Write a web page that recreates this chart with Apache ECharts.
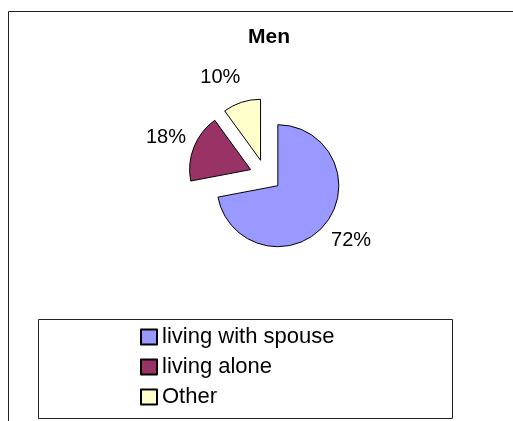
<!DOCTYPE html>
<html>
<head>
<meta charset="utf-8">
<script src="https://cdn.jsdelivr.net/npm/echarts@6/dist/echarts.min.js"></script>
<style>
  html, body { margin: 0; padding: 0; background: #fff; }
  #chart { width: 513px; height: 421px; }
</style>
</head>
<body>
<div id="chart"></div>
<script>
// living arrangements of men, shares in percent
const categories = ['living with spouse', 'living alone', 'Other']
const shares = [72, 18, 10]
const sliceColors = ['#9999ff', '#993366', '#ffffcc']
// per-slice nudge so labels sit where the original put them
const labelNudge = [-13.6, -16, -6.6]

const FONT = '"Liberation Sans", Arial, sans-serif'

const chart = echarts.init(document.getElementById('chart'))

chart.setOption({
  backgroundColor: '#ffffff',
  animation: false,
  title: {
    text: 'Men',
    left: 264,
    textAlign: 'center',
    top: 22,
    textStyle: { fontFamily: FONT, fontSize: 21, fontWeight: 'bold', color: '#000' },
  },
  legend: {
    orient: 'vertical',
    left: 135,
    top: 321,
    itemWidth: 16,
    itemHeight: 15,
    itemGap: 8,
    icon: 'rect',
    selectedMode: false,
    data: categories,
    textStyle: { fontFamily: FONT, fontSize: 22, lineHeight: 22, color: '#000' },
  },
  graphic: [
    {
      type: 'rect',
      shape: { x: 8.5, y: 11.5, width: 600, height: 600 },
      style: { fill: 'none', stroke: '#222', lineWidth: 1 },
      silent: true,
    },
    {
      type: 'rect',
      shape: { x: 38.5, y: 319.5, width: 414, height: 99 },
      style: { fill: 'none', stroke: '#222', lineWidth: 1 },
      silent: true,
    },
  ],
  series: [
    {
      type: 'pie',
      center: [265.5, 175.5],
      radius: 61,
      startAngle: 90,
      clockwise: true,
      selectedMode: 'multiple',
      selectedOffset: 16,
      avoidLabelOverlap: false,
      itemStyle: { borderColor: '#000', borderWidth: 1 },
      select: { itemStyle: { borderColor: '#000', borderWidth: 1 } },
      emphasis: { disabled: true },
      label: {
        show: true,
        position: 'outside',
        formatter: '{c}%',
        fontFamily: FONT,
        fontSize: 20,
        color: '#000',
      },
      labelLine: { show: false, length: 25.7, length2: 0 },
      data: categories.map((name, i) => ({
        name,
        value: shares[i],
        selected: true,
        itemStyle: { color: sliceColors[i] },
        label: { distanceToLabelLine: labelNudge[i] },
      })),
    },
  ],
})
</script>
</body>
</html>
